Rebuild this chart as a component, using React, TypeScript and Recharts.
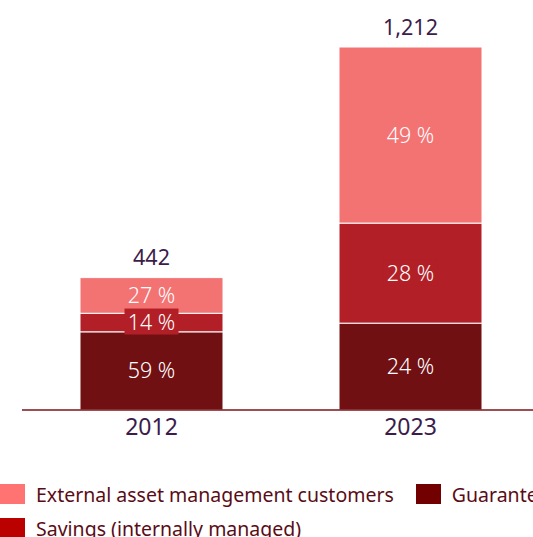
import React from 'react';
import { BarChart, Bar, XAxis, YAxis, Legend, LabelList } from 'recharts';

const categories = ['2012', '2023'];
const totals = [442, 1212];
const guarantee = [261, 290];
const savings = [62, 334];
const external = [119, 588];

const seriesNames = {
  external: 'External asset management customers',
  guarantee: 'Guarantee',
  savings: 'Savings (internally managed)',
};

const barColors = { guarantee: '#701013', savings: '#b21f27', external: '#f37272' };
const legendColors = { external: '#ff7373', guarantee: '#720000', savings: '#bb0000' };
const legendOrder = ['external', 'guarantee', 'savings'];

const data = categories.map((c, i) => ({
  year: c,
  total: totals[i],
  guarantee: guarantee[i],
  savings: savings[i],
  external: external[i],
}));

const FONT = '"Noto Sans", sans-serif';

const pctLabel = (key: string, withBox: boolean) => (props: any) => {
  const { x, y, width, height, index } = props;
  const v = data[index][key];
  const pct = Math.round((v / data[index].total) * 100);
  const cx = x + width / 2;
  const cy = y + height / 2 - 1;
  return (
    <g>
      {withBox && <rect x={cx - 27} y={cy - 13} width={54} height={26} fill={barColors.savings} />}
      <text x={cx} y={cy} fill="#ffffff" fontSize={21.5} fontWeight={300} fontFamily={FONT} textAnchor="middle" dominantBaseline="central">
        {pct} %
      </text>
    </g>
  );
};

const totalLabel = (props: any) => {
  const { x, y, width, index } = props;
  return (
    <text x={x + width / 2} y={y - 21} fill="#3b1c4a" fontSize={21.5} fontFamily={FONT} textAnchor="middle" dominantBaseline="central">
      {data[index].total.toLocaleString('en-US')}
    </text>
  );
};

const renderLegend = () => (
  <div style={{ display: 'flex', flexWrap: 'wrap', width: 600, fontFamily: FONT }}>
    {legendOrder.map((k) => (
      <div key={k} style={{ display: 'flex', alignItems: 'center', height: 34, marginRight: 22 }}>
        <div style={{ width: 25, height: 20, background: legendColors[k], marginRight: 11 }} />
        <span style={{ fontSize: 19.5, color: '#5a0c16', whiteSpace: 'nowrap' }}>{seriesNames[k]}</span>
      </div>
    ))}
  </div>
);

export default function App() {
  return (
    <div style={{ position: 'absolute', left: 0, top: 0, width: 533, height: 537, overflow: 'hidden', background: '#fff' }}>
      <BarChart
        width={600}
        height={560}
        data={data}
        margin={{ top: 47, right: 60, bottom: 110, left: 22 }}
      >
        <XAxis
          dataKey="year"
          axisLine={{ stroke: '#7a1418', strokeWidth: 1.5 }}
          tickLine={false}
          tickMargin={3}
          height={40}
          tick={{ fontSize: 23, fill: '#3b1c4a', fontFamily: FONT }}
        />
        <YAxis hide domain={[0, 1212]} />
        <Legend
          verticalAlign="middle"
          align="center"
          layout="horizontal"
          content={renderLegend}
          wrapperStyle={{ top: 477, left: 0, width: 600 }}
        />
        <Bar dataKey="guarantee" name={seriesNames.guarantee} stackId="a" fill={barColors.guarantee} stroke="#ffffff" strokeWidth={1} barSize={143} isAnimationActive={false}>
          <LabelList dataKey="guarantee" content={pctLabel('guarantee', false)} />
        </Bar>
        <Bar dataKey="savings" name={seriesNames.savings} stackId="a" fill={barColors.savings} stroke="#ffffff" strokeWidth={1} barSize={143} isAnimationActive={false}>
          <LabelList dataKey="savings" content={pctLabel('savings', true)} />
        </Bar>
        <Bar dataKey="external" name={seriesNames.external} stackId="a" fill={barColors.external} stroke="#ffffff" strokeWidth={1} barSize={143} isAnimationActive={false}>
          <LabelList dataKey="external" content={pctLabel('external', false)} />
          <LabelList dataKey="total" content={totalLabel} />
        </Bar>
      </BarChart>
    </div>
  );
}
